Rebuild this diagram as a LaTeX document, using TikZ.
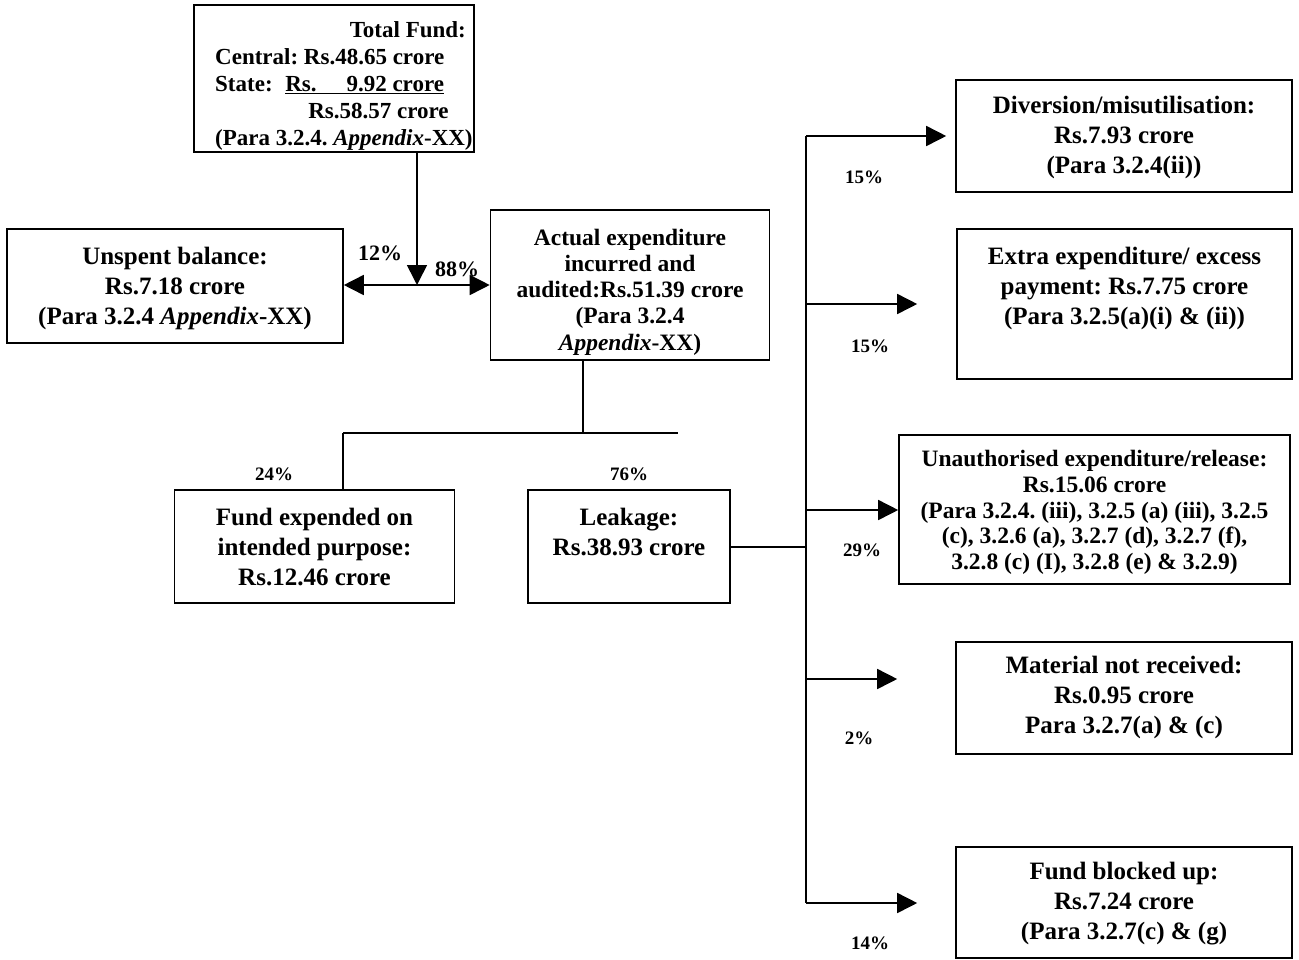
\documentclass[tikz,border=0pt]{standalone}
\usepackage{fontspec}
\setmainfont{Liberation Serif}
\usetikzlibrary{arrows.meta}
\frenchspacing
\begin{document}
\begin{tikzpicture}[x=1pt,y=-1pt,
  box/.style={draw, line width=1.6pt, inner sep=0pt},
  txt/.style={inner sep=0pt, align=center, font=\bfseries\fontsize{25}{30}\selectfont},
  link/.style={line width=1.6pt},
  arr/.style={link, -{Triangle[length=20pt,width=20pt]}},
  pct/.style={inner sep=0pt, font=\bfseries\fontsize{19}{22}\selectfont},
  bigpct/.style={inner sep=0pt, font=\bfseries\fontsize{22}{26}\selectfont}]
\useasboundingbox (0,0) rectangle (1299,959);

% ---- source of funds ----
\node[box, minimum width=280pt, minimum height=147pt] (total) at (334,78.5) {};
\node[inner sep=0pt, align=left, anchor=west, font=\bfseries\fontsize{23}{27}\selectfont]
  (totaltext) at (215,86) {%
  \hspace*{5.85em}Total Fund:\\
  Central: Rs.48.65 crore\\
  State:\hspace{0.55em}\underline{Rs.\hspace{1.3em}9.92 crore}\\
  \hspace*{4.05em}Rs.58.57 crore\\
  (Para 3.2.4. \textit{Appendix}-XX)};

\node[box, minimum width=336pt, minimum height=114pt] (unspent) at (175,286) {};
\node[txt] (unspent-t) at ([yshift=-2pt]unspent.center)
  {Unspent balance:\\ Rs.7.18 crore\\ (Para 3.2.4 \textit{Appendix}-XX)};

\node[box, minimum width=279pt, minimum height=150pt] (actual) at (630,285) {};
\node[txt, font=\bfseries\fontsize{23.5}{26.3}\selectfont] (actual-t)
  at ([yshift=-7pt]actual.center)
  {Actual expenditure\\ incurred and\\ audited:Rs.51.39 crore\\ (Para 3.2.4\\ \textit{Appendix}-XX)};

\node[box, minimum width=280pt, minimum height=113pt] (fund) at (314.5,546.5) {};
\node[txt] (fund-t) at (fund.center)
  {Fund expended on\\ intended purpose:\\ Rs.12.46 crore};

\node[box, minimum width=202pt, minimum height=113pt] (leak) at (629,546.5) {};
\node[txt] (leak-t) at ([yshift=15pt]leak.center) {Leakage:\\ Rs.38.93 crore};

% ---- kinds of leakage ----
\node[box, minimum width=336pt, minimum height=112pt] (div) at (1124,136) {};
\node[txt] (div-t) at ([yshift=-1pt]div.center)
  {Diversion/misutilisation:\\ Rs.7.93 crore\\ (Para 3.2.4(ii))};

\node[box, minimum width=335pt, minimum height=150pt] (extra) at (1124.5,304) {};
\node[txt] (extra-t) at ([yshift=16pt]extra.center)
  {Extra expenditure/ excess\\ payment: Rs.7.75 crore\\ (Para 3.2.5(a)(i) \& (ii))};

\node[box, minimum width=391pt, minimum height=149pt] (unauth) at (1094.5,509.5) {};
\node[txt, font=\bfseries\fontsize{23.5}{25.8}\selectfont] (unauth-t)
  at ([yshift=-3pt]unauth.center)
  {Unauthorised expenditure/release:\\ Rs.15.06 crore\\
   (Para 3.2.4. (iii), 3.2.5 (a) (iii), 3.2.5\\
   (c), 3.2.6 (a), 3.2.7 (d), 3.2.7 (f),\\
   3.2.8 (c) (I), 3.2.8 (e) \& 3.2.9)};

\node[box, minimum width=336pt, minimum height=112pt] (material) at (1124,698) {};
\node[txt] (material-t) at ([yshift=1pt]material.center)
  {Material not received:\\ Rs.0.95 crore\\ Para 3.2.7(a) \& (c)};

\node[box, minimum width=336pt, minimum height=111pt] (blocked) at (1124,902.5) {};
\node[txt] (blocked-t) at ([yshift=-1pt]blocked.center)
  {Fund blocked up:\\ Rs.7.24 crore\\ (Para 3.2.7(c) \& (g)};

% ---- first split ----
\coordinate (j0) at (417,285);
\draw[arr] (total.south -| j0) -- (j0);
\draw[arr] (j0) -- (unspent.east |- j0);
\draw[arr] (j0) -- (actual.west |- j0);
\node[bigpct] (p12) at (380,253) {12\%};
\node[bigpct] (p88) at (457,269) {88\%};

% ---- second split ----
\coordinate (s0) at (583,433);
\coordinate (sl) at (343,433);
\coordinate (sr) at (678,433);
\draw[link] (actual.south -| s0) -- (s0);
\draw[link] (sl) -- (sr);
\draw[link] (sl) -- (fund.north -| sl);
\node[pct] (p24) at (274,474) {24\%};
\node[pct] (p76) at (629,474) {76\%};

% ---- leakage trunk ----
\coordinate (t0) at (806,547);
\coordinate (t1) at (806,136);
\coordinate (t2) at (806,304);
\coordinate (t3) at (806,510);
\coordinate (t4) at (806,679);
\coordinate (t5) at (806,903);
\draw[link] (leak.east |- t0) -- (t0);
\draw[link] (t1) -- (t5);
\draw[arr, shorten >=9pt]  (t1) -- (div.west |- t1);
\draw[arr, shorten >=39pt] (t2) -- (extra.west |- t2);
\draw[arr]                 (t3) -- (unauth.west |- t3);
\draw[arr, shorten >=58pt] (t4) -- (material.west |- t4);
\draw[arr, shorten >=38pt] (t5) -- (blocked.west |- t5);

\node[pct] (p15a) at (864,177) {15\%};
\node[pct] (p15b) at (870,346) {15\%};
\node[pct] (p29)  at (862,550) {29\%};
\node[pct] (p2)   at (859,738) {2\%};
\node[pct] (p14)  at (870,943) {14\%};
\end{tikzpicture}
\end{document}
